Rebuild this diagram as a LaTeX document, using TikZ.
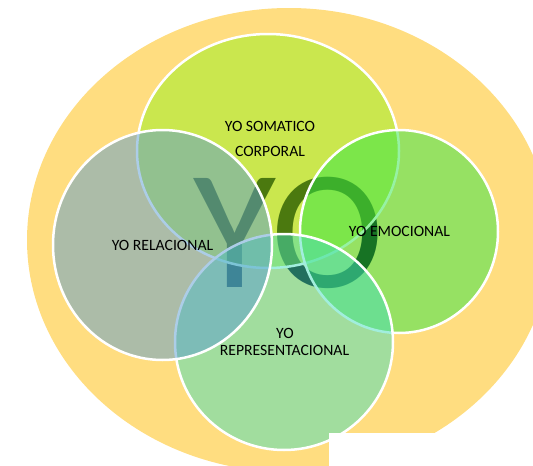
\documentclass[tikz,border=0pt]{standalone}
\usepackage{fontspec}
\setmainfont{Carlito}
\definecolor{bgyellow}{RGB}{255,221,128}
\definecolor{somcol}{RGB}{151,242,30}
\definecolor{emocol}{RGB}{47,230,72}
\definecolor{repcol}{RGB}{69,222,188}
\definecolor{relcol}{RGB}{91,156,208}
\begin{document}
\begin{tikzpicture}[x=1pt,y=-1pt,
  venn/.style={draw=white, line width=2.5pt, fill opacity=0.5},
  lbl/.style={font=\fontsize{15.7}{17}\selectfont, inner sep=0pt, anchor=base, text=black}]
\useasboundingbox (0,0) rectangle (533,466);
% outer yellow ellipse
\fill[bgyellow] (289,240) ellipse [x radius=262pt, y radius=232pt];
% big YO lettering, seen through the circles
\node[anchor=base west, inner sep=0pt, text=black, font=\fontsize{170}{170}\selectfont] (yo) at (193.5,287) {YO};
% the four circles
\draw[venn, fill=somcol] (268,151) ellipse [x radius=131pt, y radius=117pt];
\draw[venn, fill=emocol] (399,231.5) ellipse [x radius=99pt, y radius=101.5pt];
\draw[venn, fill=repcol] (284,342) ellipse [x radius=109pt, y radius=108pt];
\draw[venn, fill=relcol] (162.5,245) ellipse [x radius=109.5pt, y radius=115pt];
% labels
\node[lbl] (som1) at (270,131.7) {YO SOMATICO};
\node[lbl] (som2) at (270,156) {CORPORAL};
\node[lbl] (rel) at (162.5,250) {YO RELACIONAL};
\node[lbl] (emo) at (399.5,236.7) {YO EMOCIONAL};
\node[lbl] (rep1) at (285,338) {YO};
\node[lbl] (rep2) at (284.5,355) {REPRESENTACIONAL};
% white patch at bottom right
\fill[white] (329,433) rectangle (533,466);
\end{tikzpicture}
\end{document}
